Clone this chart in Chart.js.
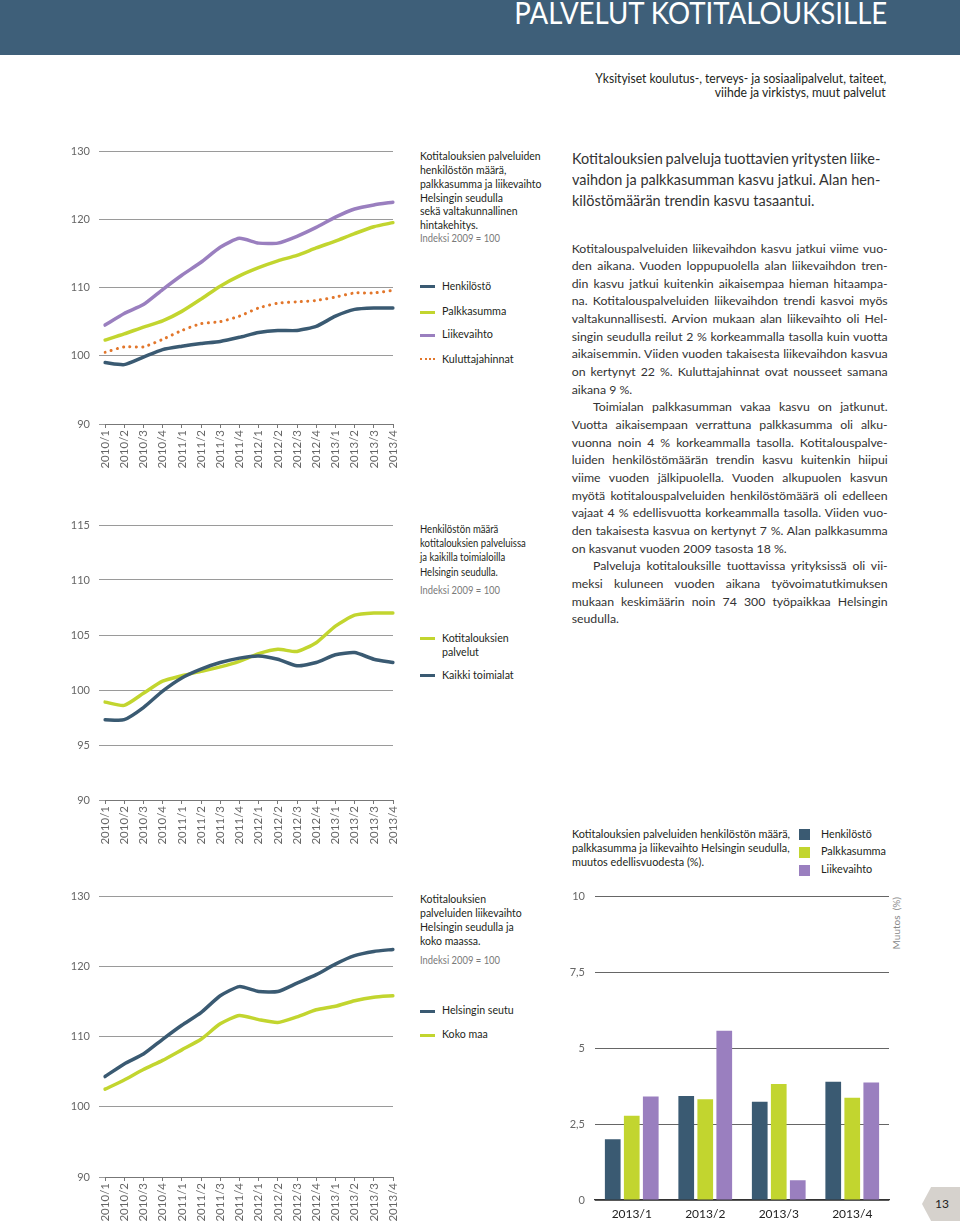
<!DOCTYPE html>
<html><head><meta charset="utf-8">
<script src="https://cdn.jsdelivr.net/npm/chart.js@4.4.0/dist/chart.umd.min.js"></script>
<style>
html,body{margin:0;padding:0;width:960px;height:1221px;overflow:hidden;background:#fff;font-family:Lato,"Open Sans",sans-serif;color:#231f20;}
.a{position:absolute;}
.t{display:inline-block;white-space:nowrap;transform-origin:0 50%;}
.r .t{transform-origin:100% 50%;}
.ln{white-space:nowrap;}
canvas{position:absolute;}
#hdr{left:0;top:0;width:960px;height:55px;background:#3e5f79;}
#title{right:73px;top:-3px;color:#fff;font-size:30px;line-height:30px;white-space:nowrap;}
.sub{right:74px;font-size:12.5px;line-height:14.3px;text-align:right;}
.mid{left:420px;font-size:11.5px;}
.gray{color:#7a7a7a;}
.sw{left:420px;width:15px;height:3px;}
.dot{left:420px;width:15px;height:0;border-top:2.5px dotted #e2762b;}
.lg{left:441.5px;font-size:11.5px;line-height:14px;}
.sq{left:799px;width:11px;height:11px;}
.blg{left:821px;font-size:12px;line-height:14px;}
#head{left:571.7px;top:148.4px;font-size:16px;line-height:20.85px;color:#333;}
#body{left:571.7px;top:239.5px;font-size:12.3px;line-height:17.66px;color:#333;}
#muutos{left:890px;top:897px;font-size:10px;color:#888;writing-mode:vertical-rl;transform:rotate(180deg);white-space:pre;}
#tab{left:922px;top:1187px;width:38px;height:34px;background:#d6d2cd;clip-path:polygon(24% 0,100% 0,100% 100%,24% 100%,0 50%);}
#pnum{left:935px;top:1196px;font-size:12px;line-height:16px;color:#222;}
</style></head>
<body>
<div id="hdr" class="a"></div>
<div id="title" class="a r"><span class="t fit" data-w="373">PALVELUT KOTITALOUKSILLE</span></div>
<div class="a sub r" style="top:72px;"><span class="t fit" data-w="291">Yksityiset koulutus-, terveys- ja sosiaalipalvelut, taiteet,</span></div>
<div class="a sub r" style="top:86.3px;"><span class="t fit" data-w="171">viihde ja virkistys, muut palvelut</span></div>

<!-- middle column chart 1 -->
<div class="a mid blk" data-w="120.7" style="top:149px;line-height:13.86px;">
<div class="ln"><span class="t">Kotitalouksien palveluiden</span></div>
<div class="ln"><span class="t">henkilöstön määrä,</span></div>
<div class="ln"><span class="t">palkkasumma ja liikevaihto</span></div>
<div class="ln"><span class="t">Helsingin seudulla</span></div>
<div class="ln"><span class="t">sekä valtakunnallinen</span></div>
<div class="ln"><span class="t">hintakehitys.</span></div>
</div>
<div class="a mid gray" style="top:230.5px;line-height:14px;"><span class="t fit" data-w="80">Indeksi 2009 = 100</span></div>
<div class="a sw" style="top:285.2px;background:#3a5a72;"></div>
<div class="a lg" style="top:279px;"><span class="t fit" data-w="49">Henkilöstö</span></div>
<div class="a sw" style="top:310.5px;background:#c2d52f;"></div>
<div class="a lg" style="top:304px;"><span class="t fit" data-w="64.3">Palkkasumma</span></div>
<div class="a sw" style="top:333.5px;background:#9a7fbf;"></div>
<div class="a lg" style="top:327px;"><span class="t fit" data-w="51">Liikevaihto</span></div>
<div class="a dot" style="top:358px;"></div>
<div class="a lg" style="top:351.5px;"><span class="t fit" data-w="71.7">Kuluttajahinnat</span></div>

<!-- middle column chart 2 -->
<div class="a mid blk" data-w="78.3" style="top:522px;line-height:14.2px;">
<div class="ln"><span class="t">Henkilöstön määrä</span></div>
<div class="ln"><span class="t">kotitalouksien palveluissa</span></div>
<div class="ln"><span class="t">ja kaikilla toimialoilla</span></div>
<div class="ln"><span class="t">Helsingin seudulla.</span></div>
</div>
<div class="a mid gray" style="top:582.5px;line-height:14px;"><span class="t fit" data-w="80">Indeksi 2009 = 100</span></div>
<div class="a sw" style="top:636.5px;background:#c2d52f;"></div>
<div class="a lg blk" data-w="66.7" style="top:630.5px;line-height:14.6px;">
<div class="ln"><span class="t">Kotitalouksien</span></div>
<div class="ln"><span class="t">palvelut</span></div>
</div>
<div class="a sw" style="top:674.2px;background:#3a5a72;"></div>
<div class="a lg" style="top:668px;"><span class="t fit" data-w="71.7">Kaikki toimialat</span></div>

<!-- middle column chart 3 -->
<div class="a mid blk" data-w="66" style="top:892px;line-height:14.1px;">
<div class="ln"><span class="t">Kotitalouksien</span></div>
<div class="ln"><span class="t">palveluiden liikevaihto</span></div>
<div class="ln"><span class="t">Helsingin seudulla ja</span></div>
<div class="ln"><span class="t">koko maassa.</span></div>
</div>
<div class="a mid gray" style="top:952.5px;line-height:14px;"><span class="t fit" data-w="80">Indeksi 2009 = 100</span></div>
<div class="a sw" style="top:1009.5px;background:#3a5a72;"></div>
<div class="a lg" style="top:1003px;"><span class="t fit" data-w="71.7">Helsingin seutu</span></div>
<div class="a sw" style="top:1033.5px;background:#c2d52f;"></div>
<div class="a lg" style="top:1027px;"><span class="t fit" data-w="45.7">Koko maa</span></div>

<!-- bar chart title & legend -->
<div class="a blk" data-w="218" style="left:571.7px;top:827px;font-size:12px;line-height:14.15px;">
<div class="ln"><span class="t">Kotitalouksien palveluiden henkilöstön määrä,</span></div>
<div class="ln"><span class="t">palkkasumma ja liikevaihto Helsingin seudulla,</span></div>
<div class="ln"><span class="t">muutos edellisvuodesta (%).</span></div>
</div>
<div class="a sq" style="top:829px;background:#3a5a72;"></div>
<div class="a blg" style="top:826.5px;"><span class="t fit" data-w="50.7">Henkilöstö</span></div>
<div class="a sq" style="top:846.5px;background:#c2d52f;"></div>
<div class="a blg" style="top:844px;"><span class="t fit" data-w="65">Palkkasumma</span></div>
<div class="a sq" style="top:864.5px;background:#9a7fbf;"></div>
<div class="a blg" style="top:862px;"><span class="t fit" data-w="51.3">Liikevaihto</span></div>
<div id="muutos" class="a">Muutos  (%)</div>

<!-- right column text -->
<div id="head" class="a jblk">
<div class="ln"><span class="t" data-j="308.3">Kotitalouksien palveluja tuottavien yritysten liike-</span></div>
<div class="ln"><span class="t" data-j="308.3">vaihdon ja palkkasumman kasvu jatkui. Alan hen-</span></div>
<div class="ln"><span class="t">kilöstömäärän trendin kasvu tasaantui.</span></div>
</div>
<div id="body" class="a jblk">
<div class="ln"><span class="t" data-j="316">Kotitalouspalveluiden liikevaihdon kasvu jatkui viime vuo-</span></div>
<div class="ln"><span class="t" data-j="316">den aikana. Vuoden loppupuolella alan liikevaihdon tren-</span></div>
<div class="ln"><span class="t" data-j="316">din kasvu jatkui kuitenkin aikaisempaa hieman hitaampa-</span></div>
<div class="ln"><span class="t" data-j="316">na. Kotitalouspalveluiden liikevaihdon trendi kasvoi myös</span></div>
<div class="ln"><span class="t" data-j="316">valtakunnallisesti. Arvion mukaan alan liikevaihto oli Hel-</span></div>
<div class="ln"><span class="t" data-j="316">singin seudulla reilut 2 % korkeammalla tasolla kuin vuotta</span></div>
<div class="ln"><span class="t" data-j="316">aikaisemmin. Viiden vuoden takaisesta liikevaihdon kasvua</span></div>
<div class="ln"><span class="t" data-j="316">on kertynyt 22 %. Kuluttajahinnat ovat nousseet samana</span></div>
<div class="ln"><span class="t">aikana 9 %.</span></div>
<div class="ln" style="padding-left:21.3px;"><span class="t" data-j="294.7">Toimialan palkkasumman vakaa kasvu on jatkunut.</span></div>
<div class="ln"><span class="t" data-j="316">Vuotta aikaisempaan verrattuna palkkasumma oli alku-</span></div>
<div class="ln"><span class="t" data-j="316">vuonna noin 4 % korkeammalla tasolla. Kotitalouspalve-</span></div>
<div class="ln"><span class="t" data-j="316">luiden henkilöstömäärän trendin kasvu kuitenkin hiipui</span></div>
<div class="ln"><span class="t" data-j="316">viime vuoden jälkipuolella. Vuoden alkupuolen kasvun</span></div>
<div class="ln"><span class="t" data-j="316">myötä kotitalouspalveluiden henkilöstömäärä oli edelleen</span></div>
<div class="ln"><span class="t" data-j="316">vajaat 4 % edellisvuotta korkeammalla tasolla. Viiden vuo-</span></div>
<div class="ln"><span class="t" data-j="316">den takaisesta kasvua on kertynyt 7 %. Alan palkkasumma</span></div>
<div class="ln"><span class="t">on kasvanut vuoden 2009 tasosta 18 %.</span></div>
<div class="ln" style="padding-left:21.3px;"><span class="t" data-j="294.7">Palveluja kotitalouksille tuottavissa yrityksissä oli vii-</span></div>
<div class="ln"><span class="t" data-j="316">meksi kuluneen vuoden aikana työvoimatutkimuksen</span></div>
<div class="ln"><span class="t" data-j="316">mukaan keskimäärin noin 74 300 työpaikkaa Helsingin</span></div>
<div class="ln"><span class="t">seudulla.</span></div>
</div>

<canvas id="c1" width="370" height="345" style="left:40px;top:130px;"></canvas>
<canvas id="c2" width="370" height="340" style="left:40px;top:505px;"></canvas>
<canvas id="c3" width="370" height="345" style="left:40px;top:876px;"></canvas>
<canvas id="c4" width="360" height="341" style="left:550px;top:880px;"></canvas>

<div id="tab" class="a"></div>
<div id="pnum" class="a">13</div>

<script>
// ---- data ----
const quarters = ['2010/1','2010/2','2010/3','2010/4','2011/1','2011/2','2011/3','2011/4','2012/1','2012/2','2012/3','2012/4','2013/1','2013/2','2013/3','2013/4'];
// chart 1: index 2009 = 100
const henkilosto = [99.0,98.7,99.8,100.9,101.4,101.8,102.1,102.7,103.4,103.7,103.7,104.3,105.8,106.8,107.0,107.0];
const palkkasumma = [102.3,103.2,104.2,105.1,106.5,108.3,110.2,111.7,112.9,113.9,114.7,115.8,116.8,117.9,118.9,119.5];
const liikevaihto = [104.5,106.2,107.5,109.7,111.8,113.7,115.9,117.2,116.5,116.5,117.5,118.8,120.3,121.5,122.1,122.5];
const kuluttajahinnat = [100.5,101.3,101.3,102.4,103.7,104.7,105.0,105.8,107.0,107.7,107.9,108.1,108.6,109.2,109.2,109.6];
// chart 2
const kotitalouksienPalvelut = [98.9,98.6,99.7,100.8,101.3,101.7,102.1,102.6,103.3,103.7,103.5,104.3,105.8,106.8,107.0,107.0];
const kaikkiToimialat = [97.3,97.3,98.4,99.9,101.1,101.9,102.5,102.9,103.1,102.8,102.2,102.5,103.2,103.4,102.8,102.5];
// chart 3
const helsinginSeutu = [104.3,106.1,107.5,109.6,111.6,113.4,115.8,117.1,116.4,116.4,117.6,118.8,120.3,121.5,122.1,122.4];
const kokoMaa = [102.5,103.8,105.3,106.6,108.1,109.6,111.8,113.0,112.4,112.0,112.8,113.8,114.3,115.1,115.6,115.8];
// chart 4: change from previous year (%)
const barQuarters = ['2013/1','2013/2','2013/3','2013/4'];
const barHenkilosto = [2.0,3.43,3.24,3.9];
const barPalkkasumma = [2.78,3.32,3.82,3.37];
const barLiikevaihto = [3.41,5.58,0.65,3.87];

const DARK='#3a5a72', GREEN='#c2d52f', PURPLE='#9a7fbf', ORANGE='#e2762b';

// ---- text fitting (horizontal scale to match the original's narrow typeface) ----
document.querySelectorAll('.fit').forEach(s=>{
  const W=parseFloat(s.dataset.w); const w=s.getBoundingClientRect().width;
  s.style.transform='scaleX('+(W/w)+')';
});
document.querySelectorAll('.blk').forEach(b=>{
  const W=parseFloat(b.dataset.w); const spans=[...b.querySelectorAll('span.t')];
  const r=W/spans[0].getBoundingClientRect().width;
  spans.forEach(s=>s.style.transform='scaleX('+r+')');
});
document.querySelectorAll('.jblk').forEach(b=>{
  const lines=[...b.querySelectorAll('span.t')];
  const ratios=[];
  lines.forEach(s=>{ if(s.dataset.j){ ratios.push(parseFloat(s.dataset.j)/s.getBoundingClientRect().width);} });
  ratios.sort((a,b)=>a-b);
  let r=ratios.length?ratios[Math.floor(ratios.length/2)]:1;
  if(r>1) r=1;
  lines.forEach(s=>{
    if(s.dataset.j){
      const w=s.getBoundingClientRect().width; const sp=(s.textContent.match(/ /g)||[]).length;
      const diff=parseFloat(s.dataset.j)/r-w;
      if(sp>0) s.style.wordSpacing=(diff/sp)+'px';
    }
    s.style.transform='scaleX('+r+')';
  });
});

// ---- charts ----
Chart.defaults.font.family='Lato, "Open Sans", sans-serif';
function ds(data,color,dash){
  const d={data,borderColor:color,backgroundColor:color,borderWidth:3.5,pointRadius:0,tension:0.2,fill:false,borderCapStyle:'round',borderJoinStyle:'round'};
  if(dash){d.borderDash=[0.1,6.3];d.borderWidth=3;}
  return d;
}
function lineChart(id,datasets,ymin,ymax,step,padTop,xH){
  new Chart(document.getElementById(id),{
    type:'line',
    data:{labels:quarters,datasets},
    options:{
      responsive:false,animation:false,
      layout:{padding:{top:padTop,right:17,left:0,bottom:0}},
      plugins:{legend:{display:false},tooltip:{enabled:false}},
      scales:{
        x:{grid:{drawOnChartArea:false,drawTicks:true,tickLength:4,color:'#777'},
           border:{display:true,color:'#777'},
           ticks:{autoSkip:false,minRotation:90,maxRotation:90,color:'#666',font:{size:11.5},padding:2},
           afterFit(s){s.height=xH;}},
        y:{min:ymin,max:ymax,grid:{color:'#9a9a9a',tickLength:6,drawTicks:true},
           border:{display:false},
           ticks:{stepSize:step,color:'#666',font:{size:11},padding:9},
           afterFit(s){s.width=65;}}
      }
    }
  });
}
lineChart('c1',[ds(henkilosto,DARK),ds(palkkasumma,GREEN),ds(liikevaihto,PURPLE),ds(kuluttajahinnat,ORANGE,true)],90,130,10,21,51);
lineChart('c2',[ds(kaikkiToimialat,DARK),ds(kotitalouksienPalvelut,GREEN)],90,115,5,20,45);
lineChart('c3',[ds(helsinginSeutu,DARK),ds(kokoMaa,GREEN)],90,130,10,20,44);

new Chart(document.getElementById('c4'),{
  type:'bar',
  data:{labels:barQuarters,datasets:[
    {data:barHenkilosto,backgroundColor:DARK},
    {data:barPalkkasumma,backgroundColor:GREEN},
    {data:barLiikevaihto,backgroundColor:PURPLE}]},
  options:{
    responsive:false,animation:false,
    layout:{padding:{top:16,right:21,left:0,bottom:0}},
    datasets:{bar:{categoryPercentage:0.776,barPercentage:0.826}},
    plugins:{legend:{display:false},tooltip:{enabled:false}},
    scales:{
      x:{grid:{display:false,drawTicks:false},border:{display:true,color:'#333',width:1.2},
         ticks:{color:'#222',font:{size:12},padding:7},
         afterFit(s){s.height=21;}},
      y:{min:0,max:10,grid:{color:'#666',drawTicks:false},border:{display:false},
         ticks:{stepSize:2.5,callback:v=>String(v).replace('.',','),color:'#666',font:{size:11},padding:10},
         afterFit(s){s.width=45;}}
    }
  }
});
</script>
</body></html>
